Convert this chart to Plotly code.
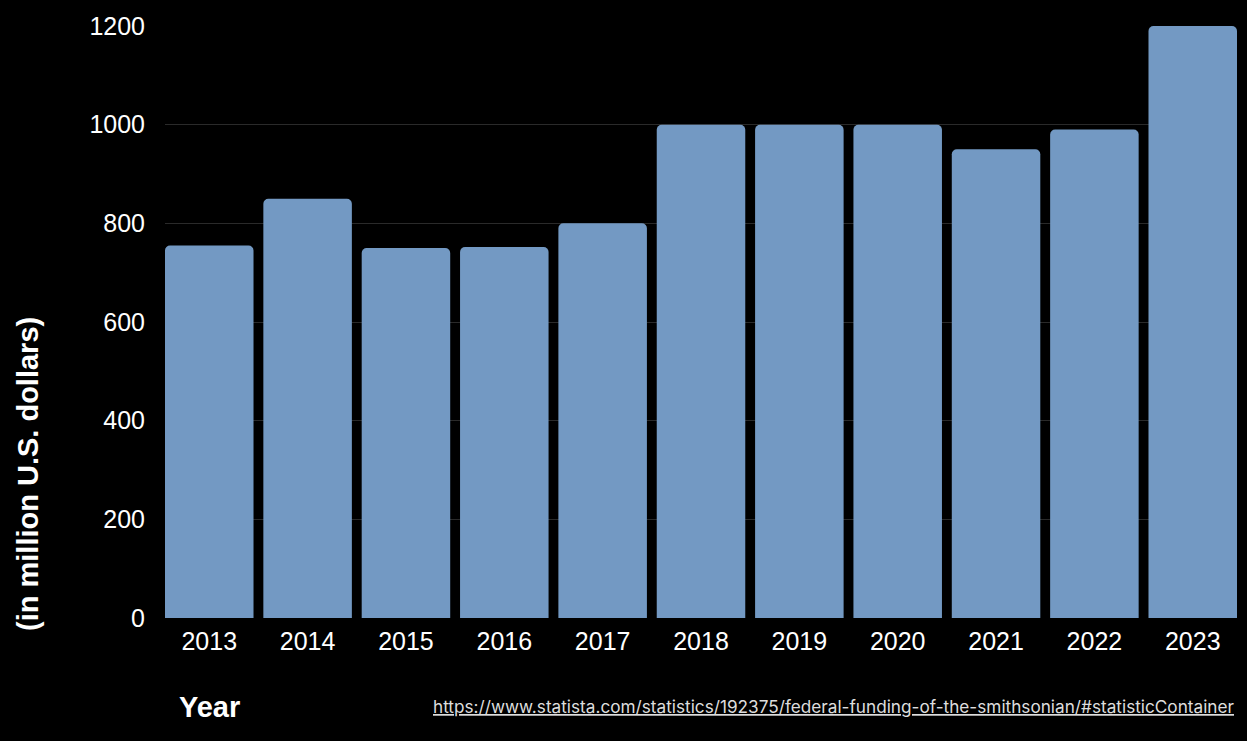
import plotly.graph_objects as go

years = ["2013", "2014", "2015", "2016", "2017", "2018", "2019", "2020", "2021", "2022", "2023"]
funding = [755, 850, 750, 752, 800, 1000, 1000, 1000, 950, 990, 1200]
y_ticks = [0, 200, 400, 600, 800, 1000, 1200]
source_url = "https://www.statista.com/statistics/192375/federal-funding-of-the-smithsonian/#statisticContainer"

fig = go.Figure(go.Bar(
    x=years, y=funding,
    marker=dict(color="#7399c3", cornerradius=5, line=dict(width=0)),
))

fig.update_layout(
    width=1247, height=741,
    paper_bgcolor="black", plot_bgcolor="black",
    margin=dict(l=165, r=10, t=26, b=123),
    bargap=0.1,
    showlegend=False,
    font=dict(family="Liberation Sans, Arial, sans-serif", color="white", size=20),
    xaxis=dict(range=[-0.45, 10.45], showgrid=False, showline=False, zeroline=False,
               ticks="", ticklabelstandoff=6, tickfont=dict(size=25, color="white")),
    yaxis=dict(range=[0, 1200], tickvals=y_ticks, showgrid=True, gridcolor="#2a2a2a",
               gridwidth=1, zeroline=False, showline=False, ticks="",
               ticklabelstandoff=19, tickfont=dict(size=25, color="white")),
    annotations=[
        dict(text="<b>Year</b>", xref="paper", yref="paper", x=(209-165)/1072, y=-(707-618)/592,
             xanchor="center", yanchor="middle", showarrow=False,
             font=dict(family="Liberation Sans, Arial, sans-serif", size=29, color="white")),
        dict(text="<b>(in million U.S. dollars)</b>", xref="paper", yref="paper",
             x=-(165-28)/1072, y=(618-474)/592, textangle=-90,
             xanchor="center", yanchor="middle", showarrow=False,
             font=dict(family="Liberation Sans, Arial, sans-serif", size=29, color="white")),
        dict(text="<u>" + source_url + "</u>", xref="paper", yref="paper",
             x=1.0, y=-(706-618)/592, xanchor="right", yanchor="middle", showarrow=False,
             font=dict(family="Inter, Liberation Sans, sans-serif", size=17.2, color="#dddddd")),
    ],
)

fig.write_html("out.html", config={"displayModeBar": False},
               post_script="document.body.style.margin='0';")
